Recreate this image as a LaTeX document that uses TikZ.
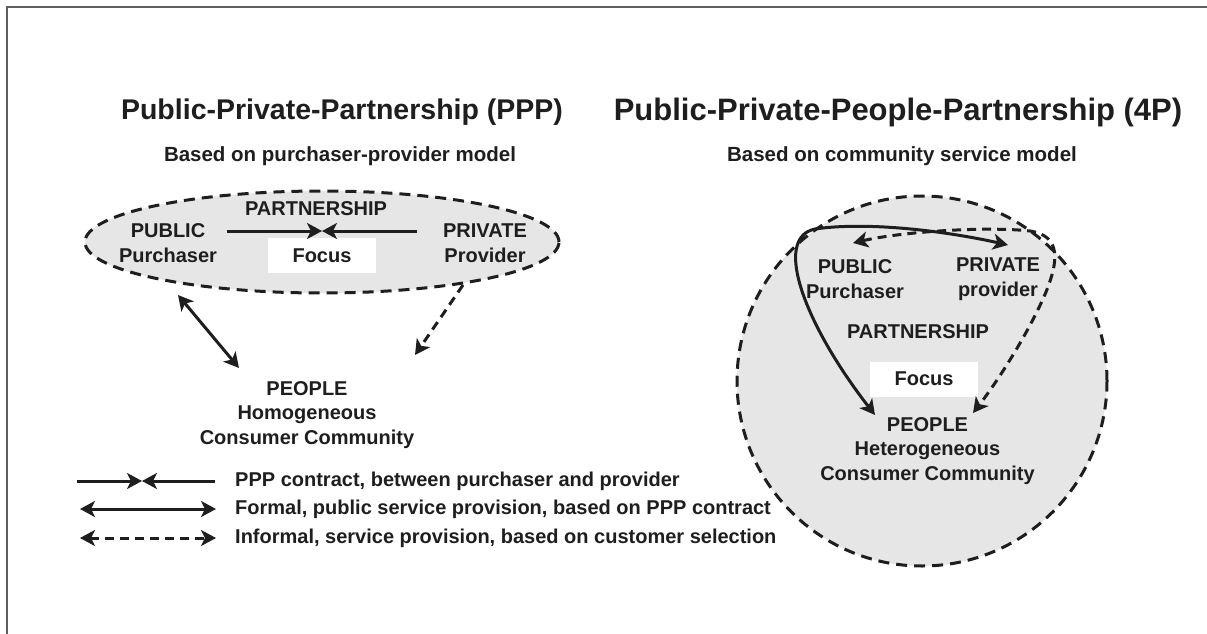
\documentclass[tikz,border=0pt]{standalone}
\usepackage{fontspec}
\setmainfont{Liberation Sans}
\usetikzlibrary{arrows.meta,shapes.geometric}
\definecolor{ink}{HTML}{1E1E1E}
\definecolor{panel}{HTML}{E6E6E6}
\definecolor{framegray}{HTML}{5F5F5F}
\begin{document}
\begin{tikzpicture}[x=1pt,y=-1pt,
  every node/.style={text=ink, align=center, inner sep=0pt,
    font=\bfseries\fontsize{20}{24.5}\selectfont},
  title/.style={font=\bfseries\fontsize{28.5}{34}\selectfont},
  bigtitle/.style={font=\bfseries\fontsize{31}{36}\selectfont},
  subtitle/.style={font=\bfseries\fontsize{20.5}{24}\selectfont},
  legendtext/.style={anchor=west},
  zone/.style={fill=panel, draw=ink, line width=3pt, dash pattern=on 11pt off 7pt},
  focusbox/.style={fill=white, minimum width=108pt, minimum height=35pt},
  >={Stealth[length=15pt,width=16pt,inset=4pt]},
  contract/.style={draw=ink, line width=3pt, ->},
  formal/.style={draw=ink, line width=3pt, <->},
  informal/.style={draw=ink, line width=3pt, dash pattern=on 9pt off 6pt, <->},
  informalone/.style={draw=ink, line width=3pt, dash pattern=on 9pt off 6pt, ->},
]
\useasboundingbox (0,0) rectangle (1207,634);

% frame
\draw[framegray, line width=2.5pt] (7,634) -- (7,7) -- (1207,7);

% ---------- PPP panel ----------
\node[title] (titleL) at (342,112) {Public-Private-Partnership (PPP)};
\node[subtitle] (subL) at (340,156) {Based on purchaser-provider model};

\node[zone, ellipse, minimum width=474pt, minimum height=102pt] (ovalL) at (322,242) {};
\node (partL) at (316,209) {PARTNERSHIP};
\node (pubL) at (168,243) {PUBLIC\\Purchaser};
\node (privL) at (485,243) {PRIVATE\\Provider};
\node[focusbox] (focL) at (322,255.5) {Focus};

\coordinate (cL) at (227,231);
\coordinate (cM) at (322,231);
\coordinate (cR) at (417,231);
\draw[contract] (cL) -- (cM);
\draw[contract] (cR) -- (cM);

\node (peopleL) at (307,415) {PEOPLE\\Homogeneous\\Consumer Community};
\coordinate (fA) at (178,295);
\coordinate (fB) at (239,368);
\draw[formal] (fA) -- (fB);
\coordinate (iA) at (463,285);
\coordinate (iB) at (415,355);
\draw[informalone] (iA) -- (iB);

% ---------- legend ----------
\coordinate (l1a) at (77,481);  \coordinate (l1m) at (142,481); \coordinate (l1b) at (215,481);
\draw[contract] (l1a) -- (l1m);
\draw[contract] (l1b) -- (l1m);
\node[legendtext] (leg1) at (235,481) {PPP contract, between purchaser and provider};

\coordinate (l2a) at (80,509); \coordinate (l2b) at (216,509);
\draw[formal] (l2a) -- (l2b);
\node[legendtext] (leg2) at (235,509) {Formal, public service provision, based on PPP contract};

\coordinate (l3a) at (80,538); \coordinate (l3b) at (216,538);
\draw[informal] (l3a) -- (l3b);
\node[legendtext] (leg3) at (235,538) {Informal, service provision, based on customer selection};

% ---------- 4P panel ----------
\node[bigtitle] (titleR) at (898,112) {Public-Private-People-Partnership (4P)};
\node[subtitle] (subR) at (902,156) {Based on community service model};

\node[zone, circle, minimum size=370pt] (ovalR) at (922,381) {};
\node (pubR) at (855,279) {PUBLIC\\Purchaser};
\node (privR) at (998,279) {PRIVATE\\provider};
\node (partR) at (918,332) {PARTNERSHIP};
\node[focusbox] (focR) at (924,379) {Focus};
\node (peopleR) at (927.5,451) {PEOPLE\\Heterogeneous\\Consumer Community};

\coordinate (sPeople) at (875,415);
\coordinate (sPriv) at (1008,245);
\draw[formal] (sPeople) .. controls (805,325) and (772,238) .. (815,229)
  .. controls (870,221) and (950,232) .. (sPriv);

\coordinate (dPub) at (853,243);
\coordinate (dPeople) at (973,413);
\draw[informal] (dPub) .. controls (900,232) and (985,226) .. (1030,231)
  .. controls (1062,236) and (1058,262) .. (1046,292)
  .. controls (1030,330) and (1000,378) .. (dPeople);
\end{tikzpicture}
\end{document}
